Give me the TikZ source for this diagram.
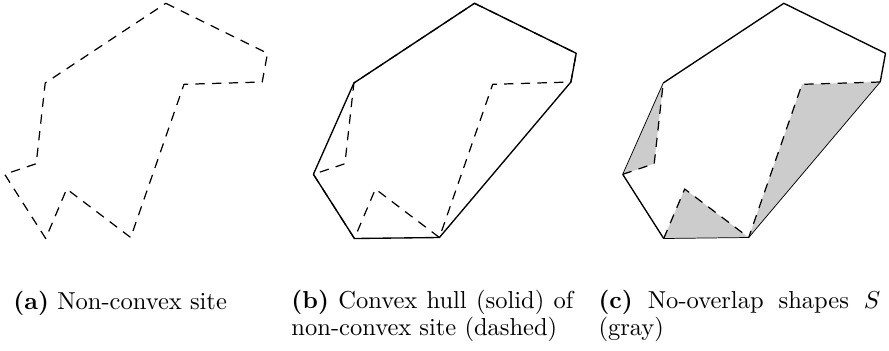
\documentclass[tikz,border=0pt]{standalone}
\begin{document}
\begin{tikzpicture}[x=0.408pt,y=-0.408pt,
  site/.style={line width=0.5pt, dash pattern=on 3.8pt off 3pt, line join=round},
  hull/.style={line width=0.55pt, line join=round},
  thinedge/.style={line width=0.3pt},
  region/.style={fill=gray!40},
  capnode/.style={anchor=base west, inner sep=0pt, font=\fontsize{10}{9.6}\selectfont},
  capbox/.style={capnode, text width=115pt, align=justify}]
\useasboundingbox (0,0) rectangle (889,350);
\foreach \p/\dx in {a/0,b/308.7,c/618}{
  \coordinate (\p1) at (165.8+\dx,3.3);
  \coordinate (\p2) at (267.5+\dx,53.3);
  \coordinate (\p3) at (262.2+\dx,82);
  \coordinate (\p4) at (184+\dx,84.3);
  \coordinate (\p5) at (130.7+\dx,237.5);
  \coordinate (\p6) at (66.7+\dx,189);
  \coordinate (\p7) at (45.7+\dx,238.5);
  \coordinate (\p8) at (4.7+\dx,174.3);
  \coordinate (\p9) at (36.2+\dx,163.7);
  \coordinate (\p10) at (45.2+\dx,83);
}
% (a)
\draw[site] (a1) -- (a2) -- (a3) -- (a4) -- (a5) -- (a6) -- (a7) -- (a8) -- (a9) -- (a10) -- cycle;
% (b)
\draw[site] (b1) -- (b2) -- (b3) -- (b4) -- (b5) -- (b6) -- (b7) -- (b8) -- (b9) -- (b10) -- cycle;
\draw[hull] (b1) -- (b2) -- (b3) -- (b5) -- (b7) -- (b8) -- (b10) -- cycle;
% (c)
\fill[region] (c3) -- (c4) -- (c5) -- cycle;
\fill[region] (c7) -- (c6) -- (c5) -- cycle;
\fill[region] (c8) -- (c9) -- (c10) -- cycle;
\draw[thinedge] (c3) -- (c5) -- (c7);
\draw[thinedge] (c8) -- (c10);
\draw[hull] (c10) -- (c1) -- (c2) -- (c3);
\draw[hull] (c7) -- (c8);
\draw[site] (c3) -- (c4) -- (c5);
\draw[site] (c7) -- (c6) -- (c5);
\draw[site] (c8) -- (c9) -- (c10);
% captions
\node[capnode] (capa) at (13,309.5) {\textbf{(a)} Non-convex site};
\node[capbox] (capb) at (291,308.8) {\textbf{(b)} Convex hull (solid) of non-convex site (dashed)};
\node[capbox] (capc) at (598,308.8) {\textbf{(c)} No-overlap shapes $S$ (gray)};
\end{tikzpicture}
\end{document}
